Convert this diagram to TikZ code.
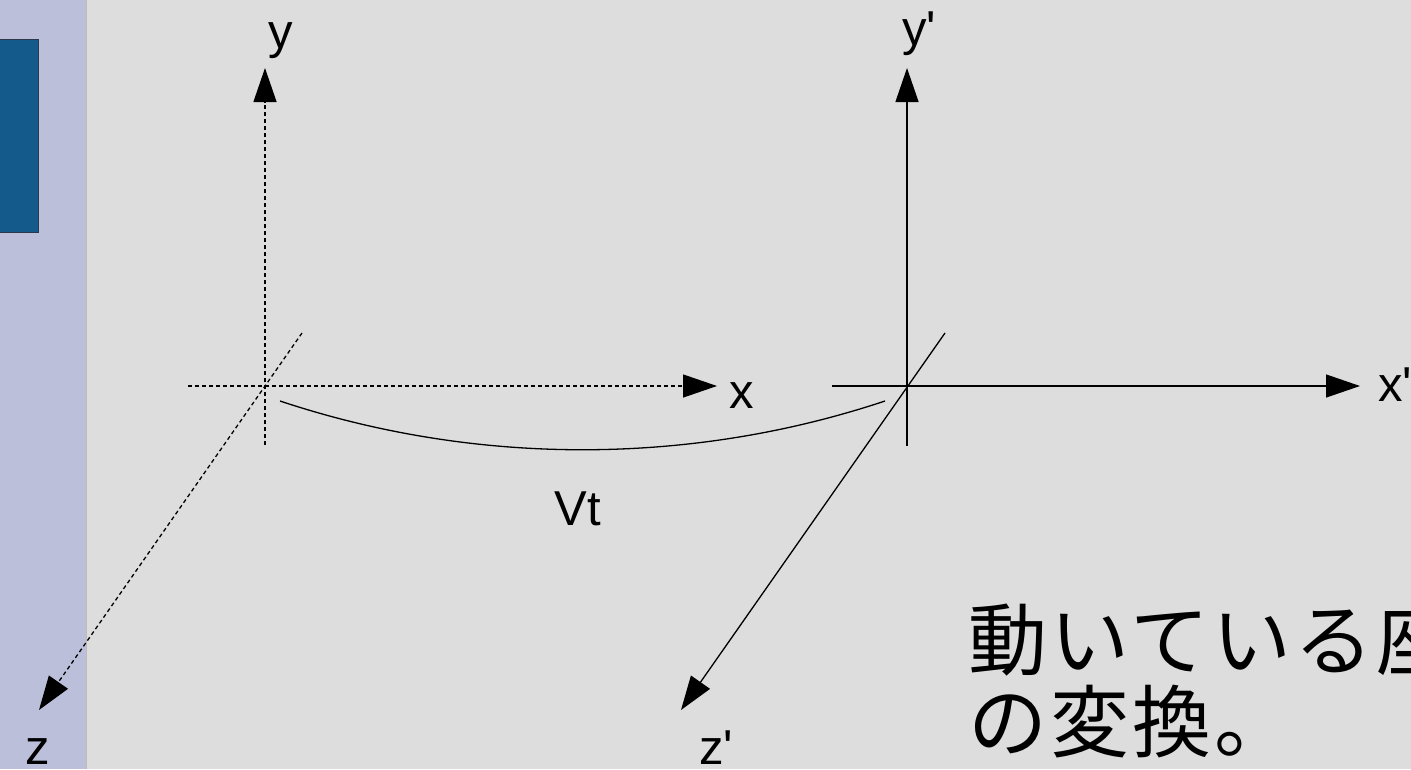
\documentclass[tikz,border=0pt]{standalone}
\usepackage{fontspec}
\setmainfont{Liberation Sans}[Ligatures=TeXOff]
\newfontfamily\cjk{Noto Sans CJK JP}[LetterSpace=4]
\usetikzlibrary{arrows.meta}
\definecolor{bgg}{HTML}{DDDDDD}
\definecolor{stripc}{HTML}{BBBFDA}
\definecolor{blueblk}{HTML}{145A8B}
\definecolor{blueedge}{HTML}{2B3A4B}
\begin{document}
\begin{tikzpicture}[x=1pt,y=-1pt,
  axisline/.style={line width=1.3pt, line cap=butt, -{Triangle[length=34pt,width=23pt]}},
  plainline/.style={line width=1.3pt},
  dashedline/.style={dash pattern=on 4pt off 3pt},
  lbl/.style={font=\fontsize{49}{55}\selectfont, anchor=base, inner sep=0pt},
  jptext/.style={font=\cjk\fontsize{79}{82}\selectfont, anchor=base west, inner sep=0pt, align=left}]
% background
\useasboundingbox (0,0) rectangle (1411,769);
\fill[bgg] (0,0) rectangle (1411,769);
\fill[stripc] (0,0) rectangle (85.5,769);
\draw[line width=1pt, color=black!15!bgg] (86,0) -- (86,769);
\filldraw[fill=blueblk, draw=blueedge, line width=1pt] (-2,39) rectangle (38,232);
% left frame
\coordinate (O1) at (265,386);
\coordinate (y1s) at (265,445); \coordinate (y1e) at (265,68);
\coordinate (x1s) at (188,386); \coordinate (x1e) at (717,386);
\coordinate (z1s) at (302,333); \coordinate (z1e) at (39,710);
\draw[axisline, dashedline] (y1s) -- (y1e);
\draw[axisline, dashedline] (x1s) -- (x1e);
\draw[axisline, dashedline] (z1s) -- (z1e);
% right frame
\coordinate (O2) at (907,386);
\coordinate (y2s) at (907,446); \coordinate (y2e) at (907,68);
\coordinate (x2s) at (832,386); \coordinate (x2e) at (1360,386);
\coordinate (z2s) at (945,333); \coordinate (z2e) at (681,710);
\draw[axisline] (y2s) -- (y2e);
\draw[axisline] (x2s) -- (x2e);
\draw[axisline] (z2s) -- (z2e);
% displacement arc
\coordinate (a1) at (280,401); \coordinate (a2) at (885,401);
\draw[plainline] (a1) .. controls (475,466) and (690,466) .. (a2);
% labels
\node[lbl] (ly) at (281,48) {y};
\node[lbl] (lx) at (742,408) {x};
\node[lbl] (lz) at (38,764) {z};
\node[lbl] (lyp) at (919,45) {y'};
\node[lbl] (lxp) at (1395,401) {x'};
\node[lbl] (lzp) at (716,764) {z'};
\node[lbl] (lvt) at (578,525) {Vt};
\node[jptext] (jp) at (968,751) {動いている座\\の変換。};
\end{tikzpicture}
\end{document}
